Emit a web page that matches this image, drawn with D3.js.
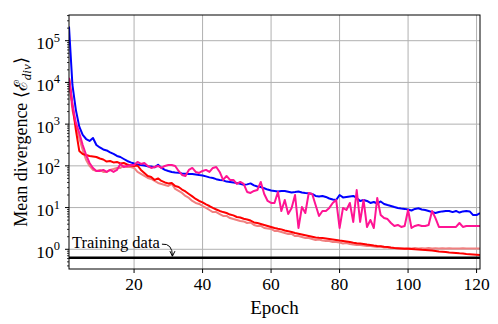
<!DOCTYPE html>
<html>
<head>
<meta charset="utf-8">
<script src="https://cdn.jsdelivr.net/npm/d3@7"></script>
<style>
  body { margin: 0; background: #fff; }
  text { font-family: "Liberation Serif", "Times New Roman", serif; fill: #000; }
</style>
</head>
<body>
<div id="chart"></div>
<script>
var
  width = 498,
  height = 324,
  margin = {top: 15, right: 18, bottom: 55, left: 69};

var innerW = width - margin.left - margin.right,
    innerH = height - margin.top - margin.bottom;

// epochs 1..121
var epochs = d3.range(1, 122);

var blueSeries = [
  218000, 8700, 2200, 870, 550, 440, 395, 465, 317, 276,
  247, 234, 210, 193, 173, 163, 146, 131, 121, 114,
  108, 105, 102, 97, 97, 92, 106, 89, 80, 75,
  71, 69, 68, 66, 65, 64, 64, 62, 60, 59,
  56, 53, 51, 48, 46, 45, 42, 41, 40, 39,
  37, 35, 36, 38, 34, 32, 31, 29, 27, 25.7,
  25, 24.3, 24.8, 25, 24, 23, 23.5, 24.3, 23, 22.4,
  22, 21.2, 19, 18.5, 19, 18, 16.5, 15.6, 15.2, 20,
  17.5, 18, 18.5, 19, 17, 14.4, 15.2, 14.4, 12.9, 13.6,
  12.5, 14, 12.2, 11.5, 10.9, 10.3, 9.8, 9.5, 9.3, 9.0,
  8.5, 9.3, 9.6, 9.0, 8.75, 8.3, 7.8, 7.4, 7.8, 8.1,
  8.3, 8.3, 7.8, 8.3, 7.6, 8.1, 8.3, 8.1, 6.6, 6.6, 7.4
];

var pinkSeries = [
  12800, 2880, 1070, 615, 317, 182, 117, 89, 75.5, 75.5,
  80, 71.4, 80, 71.4, 80, 111, 94, 99.5, 105, 105,
  124, 111, 117, 99.5, 89, 94, 99.5, 89, 99.5, 105,
  105, 99.5, 75.5, 60.5, 57.3, 80, 89, 71.4, 67.6, 75.5,
  80, 71.4, 89, 94, 71.4, 45.9, 57.3, 45.9, 45.9, 36.8,
  41.1, 36.8, 23.7, 22.4, 25, 26.4, 41.1, 21.2, 14.4, 12.9,
  12.9, 23.7, 8.3, 15.2, 7.0, 9.8, 20, 3.24, 10.3, 7.4,
  22.4, 21.2, 11.5, 6.3, 8.3, 8.3, 9.8, 12.9, 15.2, 3.24,
  9.8, 8.75, 12.9, 4.52, 26.4, 4.52, 15.2, 3.43, 5.05, 3.24,
  17, 6.65, 5.6, 5.3, 4.27, 3.62, 3.83, 3.43, 3.62, 8.75,
  3.24, 3.62, 3.83, 3.62, 3.62, 3.83, 8.3, 5.6, 3.43, 3.43,
  3.43, 3.43, 3.43, 3.43, 4.27, 3.43, 3.62, 3.62, 3.62, 3.62, 3.62
];

var redSeries = [
  12800, 2880, 725, 228, 193, 182, 173, 168, 163, 150,
  142, 127, 131, 121, 124, 114, 117, 108, 102, 99.5,
  102, 80, 67.6, 57.3, 54.2, 45.9, 50, 43.5, 40, 38,
  38.9, 33, 31.2, 27, 24.3, 21.2, 18.5, 16.1, 14.4, 13.3,
  11.9, 10.9, 9.8, 9.0, 8.3, 7.8, 7.4, 6.8, 6.5, 5.95,
  5.8, 5.4, 5.2, 4.9, 4.4, 4.27, 4.04, 3.83, 3.62, 3.43,
  3.24, 3.1, 3.0, 2.82, 2.71, 2.60, 2.46, 2.36, 2.26, 2.17,
  2.08, 2.0, 1.92, 1.89, 1.87, 1.82, 1.77, 1.72, 1.67, 1.62,
  1.58, 1.54, 1.50, 1.44, 1.39, 1.38, 1.34, 1.30, 1.27, 1.23,
  1.20, 1.18, 1.15, 1.135, 1.10, 1.074, 1.06, 1.045, 1.03, 1.03,
  1.016, 1.0, 0.99, 0.97, 0.962, 0.95, 0.93, 0.91, 0.885, 0.875,
  0.861, 0.838, 0.83, 0.815, 0.80, 0.79, 0.771, 0.763, 0.75, 0.74, 0.73
];

var salmonSeries = [
  11500, 2190, 955, 467, 240, 138, 99.5, 80, 75.5, 80,
  71.4, 71.4, 80, 84, 89, 89, 99.5, 94, 94, 89,
  71.4, 64, 57.3, 51.3, 48.5, 43.5, 38.9, 36.8, 34.8, 33,
  36.8, 27.9, 25, 22.4, 19, 17, 14.4, 12.9, 12.2, 10.9,
  9.8, 8.75, 7.8, 7.8, 7.0, 6.3, 6.3, 5.6, 5.3, 5.05,
  4.77, 4.65, 4.27, 4.4, 3.83, 3.62, 3.62, 3.24, 3.15, 3.07,
  2.75, 2.75, 2.60, 2.46, 2.33, 2.33, 2.08, 2.08, 1.97, 1.87,
  1.87, 1.77, 1.67, 1.72, 1.62, 1.58, 1.58, 1.50, 1.50, 1.46,
  1.38, 1.42, 1.34, 1.30, 1.27, 1.27, 1.23, 1.20, 1.20, 1.17,
  1.135, 1.17, 1.10, 1.10, 1.074, 1.074, 1.045, 1.045, 1.045, 1.055,
  1.045, 1.074, 1.045, 1.055, 1.045, 1.074, 1.045, 1.055, 1.045, 1.06,
  1.045, 1.055, 1.045, 1.05, 1.045, 1.055, 1.045, 1.05, 1.045, 1.045, 1.045
];

var trainingLevel = 0.63;
var annotationEpoch = 31.2;

var xTicks = [20, 40, 60, 80, 100, 120];
var yExponents = [0, 1, 2, 3, 4, 5];

var series = [
  {name: "blue", color: "#0000ff", values: blueSeries},
  {name: "salmon", color: "#f08080", values: salmonSeries},
  {name: "red", color: "#ff0000", values: redSeries},
  {name: "pink", color: "#ff1493", values: pinkSeries}
];

var svg = d3.select("#chart")
  .append("svg")
  .attr("width", width)
  .attr("height", height);

var g = svg.append("g")
  .attr("transform", "translate(" + margin.left + "," + margin.top + ")");

var x = d3.scaleLinear().domain([1, 121]).range([0, innerW]);
var y = d3.scaleLog().domain([0.337, 413000]).range([innerH, 0]);

svg.append("defs").append("clipPath").attr("id", "clip")
  .append("rect").attr("width", innerW).attr("height", innerH);

// grid
g.selectAll(".vgrid").data(xTicks).enter().append("line")
  .attr("x1", function(d) { return x(d); }).attr("x2", function(d) { return x(d); })
  .attr("y1", 0).attr("y2", innerH)
  .attr("stroke", "#b0b0b0").attr("stroke-width", 1);

g.selectAll(".hgrid").data(yExponents).enter().append("line")
  .attr("x1", 0).attr("x2", innerW)
  .attr("y1", function(d) { return y(Math.pow(10, d)); })
  .attr("y2", function(d) { return y(Math.pow(10, d)); })
  .attr("stroke", "#b0b0b0").attr("stroke-width", 1);

var plot = g.append("g").attr("clip-path", "url(#clip)");

// training data reference
plot.append("line")
  .attr("x1", 0).attr("x2", innerW)
  .attr("y1", y(trainingLevel)).attr("y2", y(trainingLevel))
  .attr("stroke", "#000").attr("stroke-width", 2.5);

var line = d3.line()
  .x(function(d, i) { return x(epochs[i]); })
  .y(function(d) { return y(d); });

plot.selectAll(".series").data(series).enter().append("path")
  .attr("d", function(s) { return line(s.values); })
  .attr("fill", "none")
  .attr("stroke", function(s) { return s.color; })
  .attr("stroke-width", 2)
  .attr("stroke-linejoin", "round");

// annotation
var tipX = x(annotationEpoch), tipY = y(trainingLevel) - 1.5;
g.append("text")
  .attr("x", 3).attr("y", tipY - 8.5)
  .style("font-size", "16.5px")
  .text("Training data");
g.append("path")
  .attr("d", "M" + (tipX - 10.5) + "," + (tipY - 12) + " Q" + (tipX) + "," + (tipY - 13) + " " + tipX + "," + tipY)
  .attr("fill", "none").attr("stroke", "#000").attr("stroke-width", 1);
g.append("path")
  .attr("d", "M" + (tipX - 2.5) + "," + (tipY - 5) + " L" + tipX + "," + tipY + " L" + (tipX + 2.5) + "," + (tipY - 5))
  .attr("fill", "none").attr("stroke", "#000").attr("stroke-width", 1);

// y ticks (log major + minor)
var minorVals = [];
for (var e = -1; e <= 5; e++) {
  for (var k = 2; k <= 9; k++) {
    var v = k * Math.pow(10, e);
    if (v >= y.domain()[0] && v <= y.domain()[1]) minorVals.push(v);
  }
}
g.selectAll(".ymin").data(minorVals).enter().append("line")
  .attr("x1", -2).attr("x2", 0)
  .attr("y1", function(d) { return y(d); }).attr("y2", function(d) { return y(d); })
  .attr("stroke", "#000").attr("stroke-width", 0.8);

g.selectAll(".ymaj").data(yExponents).enter().append("line")
  .attr("x1", -4).attr("x2", 0)
  .attr("y1", function(d) { return y(Math.pow(10, d)); })
  .attr("y2", function(d) { return y(Math.pow(10, d)); })
  .attr("stroke", "#000").attr("stroke-width", 1);

var ylab = g.selectAll(".ylab").data(yExponents).enter().append("text")
  .attr("x", -9)
  .attr("y", function(d) { return y(Math.pow(10, d)) + 8.5; })
  .attr("text-anchor", "end")
  .style("font-size", "17.5px");
ylab.append("tspan").text("10");
ylab.append("tspan").attr("dy", -7.5).style("font-size", "12.5px").text(function(d) { return d; });

// x ticks
g.selectAll(".xtick").data(xTicks).enter().append("line")
  .attr("x1", function(d) { return x(d); }).attr("x2", function(d) { return x(d); })
  .attr("y1", innerH).attr("y2", innerH + 4)
  .attr("stroke", "#000").attr("stroke-width", 1);

g.selectAll(".xlab").data(xTicks).enter().append("text")
  .attr("x", function(d) { return x(d); })
  .attr("y", innerH + 21)
  .attr("text-anchor", "middle")
  .style("font-size", "17.5px")
  .text(function(d) { return d; });

// frame
g.append("rect")
  .attr("width", innerW).attr("height", innerH)
  .attr("fill", "none").attr("stroke", "#000").attr("stroke-width", 1);

// axis titles
g.append("text")
  .attr("x", innerW / 2).attr("y", innerH + 45)
  .attr("text-anchor", "middle")
  .style("font-size", "19px")
  .text("Epoch");

var yt = g.append("text")
  .attr("transform", "translate(-42," + (innerH / 2) + ") rotate(-90)")
  .attr("text-anchor", "middle")
  .style("font-size", "18px");
yt.append("tspan").text("Mean divergence \u27E8");
yt.append("tspan").style("font-family", "'DejaVu Serif', serif").text("\u2130");
yt.append("tspan").attr("dy", 4).style("font-size", "13px").style("font-style", "italic").text("div");
yt.append("tspan").attr("dy", -4).text("\u27E9");
</script>
</body>
</html>
